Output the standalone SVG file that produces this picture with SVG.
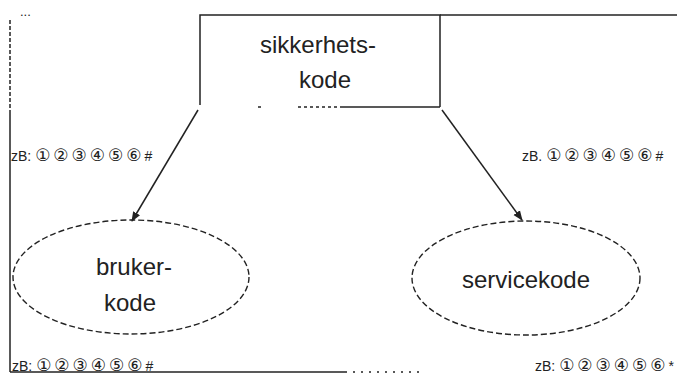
<svg xmlns="http://www.w3.org/2000/svg" width="677" height="378" viewBox="0 0 677 378">
<style>
.ln{stroke:#222;stroke-width:1.5;fill:none}
.dash{stroke:#222;stroke-width:1.4;fill:none;stroke-dasharray:6 3}
.big{font-family:"Liberation Sans",Arial,sans-serif;font-size:24px;fill:#222;text-anchor:middle}
.sm{font-family:"Liberation Sans","DejaVu Sans",sans-serif;font-size:14px;fill:#222}
.cd{font-family:"DejaVu Sans",sans-serif;font-size:17px;letter-spacing:3px}
</style>
<defs>
<marker id="ah" markerWidth="10" markerHeight="10" refX="9" refY="5" orient="auto" markerUnits="userSpaceOnUse">
<path d="M0,1 L10,5 L0,9 Z" fill="#222"/>
</marker>
</defs>
<rect width="677" height="378" fill="#fff"/>
<g id="frame">
<line class="ln" x1="10" y1="20" x2="10" y2="110" stroke-dasharray="4 2"/>
<line class="ln" x1="10" y1="110" x2="10" y2="372"/>
<line class="ln" x1="10" y1="372" x2="345" y2="372"/>
<line class="ln" x1="345" y1="372" x2="420" y2="372" stroke-dasharray="2 6" stroke="#888"/>
<text x="20" y="16" font-family="Liberation Sans,sans-serif" font-size="13" fill="#222">...</text>
<line class="ln" x1="440" y1="15" x2="677" y2="15"/>
</g>
<g id="sikkerhetskode">
<path class="ln" d="M200,105 L200,15 L440,15 L440,107"/>
<line class="ln" x1="340" y1="107" x2="440" y2="107"/>
<line class="ln" x1="298" y1="107" x2="340" y2="107" stroke-dasharray="3 3"/>
<line class="ln" x1="258" y1="107" x2="261" y2="107"/>
<text class="big" x="318" y="53">sikkerhets-</text>
<text class="big" x="325" y="88">kode</text>
</g>
<g id="brukerkode">
<ellipse class="dash" cx="131" cy="277" rx="118" ry="57"/>
<text class="big" x="134" y="275">bruker-</text>
<text class="big" x="130" y="311">kode</text>
</g>
<g id="servicekode">
<ellipse class="dash" cx="526" cy="278" rx="114" ry="57"/>
<text class="big" x="526" y="288">servicekode</text>
</g>
<g id="connectors">
<line class="ln" x1="198" y1="110" x2="132" y2="221" marker-end="url(#ah)"/>
<line class="ln" x1="442" y1="110" x2="522" y2="220" marker-end="url(#ah)"/>
</g>
<g id="labels">
<text class="sm" x="11" y="161">zB: <tspan class="cd">①②③④⑤⑥</tspan>#</text>
<text class="sm" x="522" y="161">zB. <tspan class="cd">①②③④⑤⑥</tspan>#</text>
<text class="sm" x="12" y="371">zB: <tspan class="cd">①②③④⑤⑥</tspan>#</text>
<text class="sm" x="535" y="371">zB: <tspan class="cd">①②③④⑤⑥</tspan>*</text>
</g>
</svg>
